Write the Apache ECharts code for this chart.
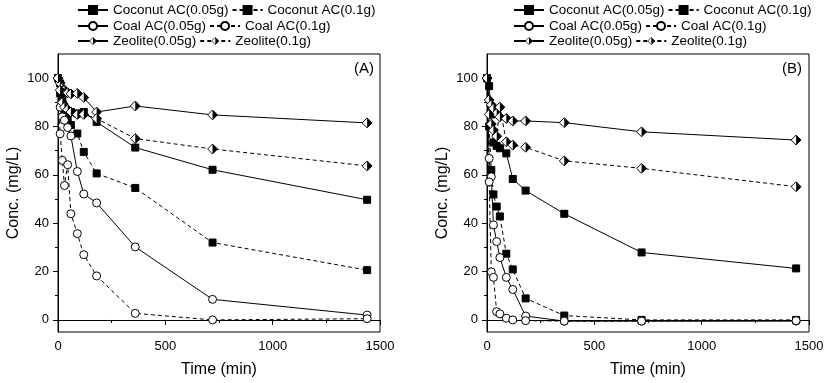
<!DOCTYPE html>
<html>
<head>
<meta charset="utf-8">
<script src="https://cdn.jsdelivr.net/npm/echarts@6/dist/echarts.min.js"></script>
<style>html,body{margin:0;padding:0;background:#fff;}#c{width:828px;height:383px;}</style>
</head>
<body>
<div id="c"></div>
<script>
// ---- data ----
const time = [0, 10, 20, 30, 45, 60, 90, 120, 180, 360, 720, 1440];
const seriesNames = ['Coconut AC(0.05g)', 'Coconut AC(0.1g)', 'Coal AC(0.05g)', 'Coal AC(0.1g)', 'Zeolite(0.05g)', 'Zeolite(0.1g)'];
// Panel A
const coconut05A = [100, 97.8, 92, 88, 85, 86, 85.4, 86, 81.9, 71.3, 62.1, 49.7];
const coconut10A = [100, 93.7, 89.5, 85.7, 82, 80.6, 77.1, 69.5, 60.6, 54.6, 32, 20.6];
const coal05A = [100, 88, 84, 82.6, 79.6, 76.1, 61.4, 52.1, 48.4, 30.2, 8.5, 2];
const coal10A = [100, 77, 66, 55.6, 64.2, 43.9, 35.7, 27, 18.2, 2.7, 0, 0.5];
const zeolite05A = [100, 98, 96, 95, 94, 93.5, 93.7, 92, 86, 88.5, 84.8, 81.5];
const zeolite10A = [100, 95, 90, 88, 87, 86, 85, 85, 83.3, 75, 70.7, 63.7];
// Panel B
const coconut05B = [100, 96.7, 85, 73.4, 72, 71, 68.9, 58.3, 53.5, 43.9, 27.9, 21.3];
const coconut10B = [100, 80, 62, 51.9, 46.9, 42.8, 27.4, 20.9, 8.9, 1.8, 0, 0];
const coal05B = [100, 66.8, 59.2, 39.3, 32.4, 25.8, 17.6, 12.6, 1.6, -0.5, -0.5, -0.5];
const coal10B = [100, 57.1, 19.9, 17.6, 3.4, 2.5, 0.7, 0, -0.3, -0.5, -0.5, -0.3];
const zeolite05B = [100, 91, 89, 87.5, 85.4, 84, 83.3, 82.3, 82.3, 81.6, 77.8, 74.4];
const zeolite10B = [100, 85, 81, 78.5, 76, 88, 73.7, 72.3, 71.4, 65.8, 62.7, 55.1];
// ticks
const xTicks = [0, 500, 1000, 1500];
const yMajorTicks = [0, 20, 40, 60, 80, 100];
const yMinorTicks = [10, 30, 50, 70, 90];

// ---- style ----
const FONT = '"Liberation Sans", Arial, sans-serif';
const diamondSvg = "<svg xmlns='http://www.w3.org/2000/svg' width='40' height='40' viewBox='0 0 40 40'>" +
  "<polygon points='20,2 38,20 20,38 2,20' fill='white' stroke='black' stroke-width='3.5'/>" +
  "<polygon points='20,2 38,20 20,38' fill='black'/></svg>";
const diamondSym = 'image://data:image/svg+xml;charset=utf-8,' + encodeURIComponent(diamondSvg);

const markerStyles = [
  {symbol: 'rect', size: 7, fill: '#000', dashed: false},
  {symbol: 'rect', size: 7, fill: '#000', dashed: true},
  {symbol: 'circle', size: 8, fill: '#fff', dashed: false},
  {symbol: 'circle', size: 8, fill: '#fff', dashed: true},
  {symbol: diamondSym, size: 11, fill: '#000', dashed: false},
  {symbol: diamondSym, size: 11, fill: '#000', dashed: true}
];
const panelA = [coconut05A, coconut10A, coal05A, coal10A, zeolite05A, zeolite10A];
const panelB = [coconut05B, coconut10B, coal05B, coal10B, zeolite05B, zeolite10B];

function makeSeries(vals, idx, gridIdx) {
  const m = markerStyles[idx];
  return {
    type: 'line',
    name: seriesNames[idx],
    xAxisIndex: gridIdx,
    yAxisIndex: gridIdx * 2,
    data: time.map((t, i) => [t, vals[i]]),
    symbol: m.symbol,
    symbolSize: m.size,
    showAllSymbol: true,
    lineStyle: {color: '#000', width: 1, type: m.dashed ? [4, 3] : 'solid'},
    itemStyle: {color: m.fill, borderColor: '#000', borderWidth: 1},
    emphasis: {disabled: true},
    animation: false
  };
}

const series = [];
panelA.forEach((v, i) => series.push(makeSeries(v, i, 0)));
panelB.forEach((v, i) => series.push(makeSeries(v, i, 1)));

function xAxis(gridIndex) {
  return {
    type: 'value', gridIndex, min: 0, max: 1500, interval: 500,
    name: 'Time (min)', nameLocation: 'middle', nameGap: 30,
    nameTextStyle: {fontSize: 16, color: '#000', fontFamily: FONT},
    axisLine: {lineStyle: {color: '#000', width: 1}},
    axisTick: {length: 5, lineStyle: {color: '#000'}},
    minorTick: {show: true, splitNumber: 2, length: 3, lineStyle: {color: '#000'}},
    axisLabel: {fontSize: 13, color: '#000', fontFamily: FONT, margin: 8, customValues: xTicks, formatter: v => String(v)},
    splitLine: {show: false}
  };
}
function yMajor(gridIndex) {
  return {
    type: 'value', gridIndex, min: -5, max: 110,
    name: 'Conc. (mg/L)', nameLocation: 'middle', nameGap: 36,
    nameTextStyle: {fontSize: 16, color: '#000', fontFamily: FONT},
    axisLine: {show: true, lineStyle: {color: '#000', width: 1}},
    axisTick: {show: true, length: 5, customValues: yMajorTicks, lineStyle: {color: '#000'}},
    axisLabel: {fontSize: 13, color: '#000', fontFamily: FONT, margin: 9, customValues: yMajorTicks, formatter: v => String(v)},
    splitLine: {show: false}
  };
}
function yMinor(gridIndex) {
  return {
    type: 'value', gridIndex, min: -5, max: 110, position: 'left',
    axisLine: {show: false},
    axisTick: {show: true, length: 3, customValues: yMinorTicks, lineStyle: {color: '#000'}},
    axisLabel: {show: false},
    splitLine: {show: false}
  };
}

function legendRow(left, top, names) {
  return {
    left, top, orient: 'horizontal', padding: 0,
    itemWidth: 30, itemHeight: 10, itemGap: 3,
    selectedMode: false,
    textStyle: {fontSize: 13.5, color: '#000', fontFamily: FONT},
    data: names
  };
}

const option = {
  backgroundColor: '#fff',
  animation: false,
  grid: [
    {left: 58, right: 448, top: 54, bottom: 51, show: true, borderColor: '#000', borderWidth: 1, containLabel: false},
    {left: 487, right: 19, top: 54, bottom: 51, show: true, borderColor: '#000', borderWidth: 1, containLabel: false}
  ],
  xAxis: [xAxis(0), xAxis(1)],
  yAxis: [yMajor(0), yMinor(0), yMajor(1), yMinor(1)],
  legend: [
    legendRow(77, 3, [seriesNames[0], seriesNames[1]]),
    legendRow(77, 19, [seriesNames[2], seriesNames[3]]),
    legendRow(77, 34, [seriesNames[4], seriesNames[5]]),
    legendRow(513, 3, [seriesNames[0], seriesNames[1]]),
    legendRow(513, 19, [seriesNames[2], seriesNames[3]]),
    legendRow(513, 34, [seriesNames[4], seriesNames[5]])
  ],
  graphic: [
    {type: 'text', x: 364, y: 69, style: {text: '(A)', font: '15px ' + FONT, fill: '#000', align: 'center', verticalAlign: 'middle'}},
    {type: 'text', x: 792, y: 69, style: {text: '(B)', font: '15px ' + FONT, fill: '#000', align: 'center', verticalAlign: 'middle'}}
  ],
  series
};

const chart = echarts.init(document.getElementById('c'), null, {renderer: 'canvas'});
chart.setOption(option);
</script>
</body>
</html>
